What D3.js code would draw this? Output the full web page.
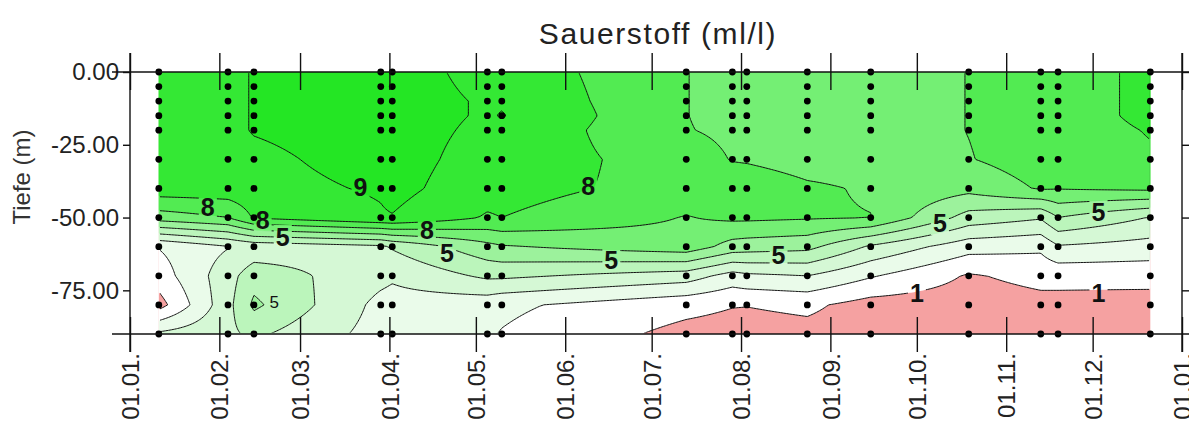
<!DOCTYPE html>
<html>
<head>
<meta charset="utf-8">
<script src="https://cdn.jsdelivr.net/npm/d3@7"></script>
<style>
  html, body { margin: 0; padding: 0; background: #fff; }
  svg { display: block; font-family: "Liberation Sans", Arial, sans-serif; }
</style>
</head>
<body>
<svg id="chart" width="1189" height="423"></svg>
<script>
// Sampling stations (dates of the CTD casts)
const stationDates = [
  "2001-01-11", "2001-02-04", "2001-02-13", "2001-03-29", "2001-04-02",
  "2001-05-05", "2001-05-10", "2001-07-13", "2001-07-29", "2001-08-03",
  "2001-08-24", "2001-09-15", "2001-10-19", "2001-11-13", "2001-11-19",
  "2001-12-21"
];

// Sampling depths (m)
const depths = [0, 5, 10, 15, 20, 30, 40, 50, 60, 70, 80, 90];

// Oxygen (ml/l), one row per station, one value per depth
const oxygen = [
  [8.8, 8.8, 8.8, 8.8, 8.8, 8.8, 8.6, 6.5, 2.05, 1.5, 0.6, 3.2],
  [8.8, 8.8, 8.8, 8.8, 8.8, 8.8, 8.6, 7.0, 2.95, 3.6, 3.7, 3.8],
  [9.05, 9.05, 9.05, 9.05, 9.05, 8.8, 8.7, 8.1, 3.3, 4.6, 5.2, 4.2],
  [9.4, 9.4, 9.4, 9.4, 9.4, 9.35, 9.1, 8.9, 3.8, 3.3, 2.7, 2.6],
  [9.4, 9.4, 9.4, 9.4, 9.4, 9.4, 9.3, 8.95, 4.1, 3.15, 2.6, 2.5],
  [8.7, 8.8, 8.9, 8.9, 8.8, 8.6, 8.4, 7.9, 5.7, 4.2, 2.4, 2.1],
  [8.7, 8.8, 8.9, 9.05, 8.8, 8.6, 8.4, 8.0, 5.9, 4.2, 2.2, 1.95],
  [7.02, 7.02, 7.02, 7.02, 7.05, 7.5, 7.6, 6.95, 6.6, 3.5, 1.3, 0.7],
  [6.7, 6.7, 6.7, 6.7, 6.8, 6.95, 7.6, 7.2, 5.6, 2.6, 1.05, 0.6],
  [6.7, 6.7, 6.7, 6.7, 6.8, 6.9, 7.6, 7.2, 5.5, 2.8, 1.03, 0.6],
  [6.5, 6.5, 6.5, 6.5, 6.5, 6.6, 7.15, 7.1, 5.3, 3.0, 1.2, 0.7],
  [6.5, 6.5, 6.5, 6.5, 6.5, 6.6, 6.9, 7.02, 3.85, 2.1, 0.6, 0.5],
  [7.02, 7.02, 7.02, 7.02, 7.02, 6.95, 6.3, 4.6, 2.4, 0.9, 0.5, 0.4],
  [7.5, 7.5, 7.5, 7.5, 7.5, 7.5, 7.1, 4.1, 2.2, 1.3, 0.7, 0.5],
  [7.6, 7.6, 7.6, 7.6, 7.6, 7.55, 7.05, 5.0, 2.9, 1.3, 0.7, 0.5],
  [8.2, 8.2, 8.2, 8.2, 8.05, 7.9, 7.2, 3.95, 2.6, 1.35, 0.6, 0.5]
];

// Contour levels and the fill of each band (below 1, 1-2, ..., above 9)
const levels = [1, 2, 3, 4, 5, 6, 7, 8, 9];
const bandColors = [
  "#f5a1a1", "#ffffff", "#eafbea", "#d5f8d5", "#bbf5bb",
  "#9cf29c", "#74ef74", "#52eb52", "#34e834", "#24e624"
];

// Axis ticks
const depthTicks = [0, -25, -50, -75];

// Contour labels: level, date, depth
const labelLevels = [9, 8, 8, 5, 5, 8, 8, 5, 5, 5, 5, 5, 1, 1];
const labelDates = [
  "2001-03-22", "2001-01-28", "2001-02-16", "2001-02-23", "2001-02-20",
  "2001-06-09", "2001-04-14", "2001-04-21", "2001-06-17", "2001-08-14",
  "2001-10-09", "2001-12-03", "2001-10-01", "2001-12-03"
];
const labelDepths = [39.5, 46.4, 50.8, 56.7, 79, 39.2, 54.3, 62.2, 64.6, 62.9, 51.9, 48.1, 75.9, 75.9];
const labelSmall = [false, false, false, false, true, false, false, false, false, false, false, false, false, false];

const title = "Sauerstoff (ml/l)";
const yTitle = "Tiefe (m)";

// ---------------------------------------------------------------
const svg = d3.select("#chart");
const parse = d3.utcParse("%Y-%m-%d");

const x = d3.scaleUtc()
  .domain([Date.UTC(2001, 0, 1), Date.UTC(2002, 0, 1)])
  .range([130, 1182]);
const y = d3.scaleLinear().domain([0, -90]).range([72, 334]);

const tStations = stationDates.map(s => +parse(s));

// bilinear interpolation between stations (time) and sampling depths
function sample(t, d) {
  let i = d3.bisectRight(tStations, t) - 1;
  i = Math.max(0, Math.min(tStations.length - 2, i));
  const fx = Math.max(0, Math.min(1, (t - tStations[i]) / (tStations[i + 1] - tStations[i])));
  let j = d3.bisectRight(depths, d) - 1;
  j = Math.max(0, Math.min(depths.length - 2, j));
  const fy = Math.max(0, Math.min(1, (d - depths[j]) / (depths[j + 1] - depths[j])));
  const a = oxygen[i][j], b = oxygen[i + 1][j];
  const c = oxygen[i][j + 1], e = oxygen[i + 1][j + 1];
  return a * (1 - fx) * (1 - fy) + b * fx * (1 - fy) + c * (1 - fx) * fy + e * fx * fy;
}

// regular grid over the sampled area
const gx0 = x(tStations[0]), gx1 = x(tStations[tStations.length - 1]);
const gy0 = y(0), gy1 = y(-depths[depths.length - 1]);
const nx = Math.round((gx1 - gx0) / 1.5), ny = Math.round((gy1 - gy0) / 1.5);
const dx = (gx1 - gx0) / nx, dy = (gy1 - gy0) / ny;
const grid = new Float64Array(nx * ny);
for (let j = 0; j < ny; j++) {
  const d = -y.invert(gy0 + (j + 0.5) * dy);
  for (let i = 0; i < nx; i++) {
    const t = +x.invert(gx0 + (i + 0.5) * dx);
    grid[j * nx + i] = sample(t, d);
  }
}

const contours = d3.contours().size([nx, ny]).thresholds(levels).smooth(true)(grid);
const path = d3.geoPath(d3.geoTransform({
  point(px, py) { this.stream.point(gx0 + px * dx, gy0 + py * dy); }
}));

// filled bands
const fills = svg.append("g");
fills.append("rect")
  .attr("x", gx0).attr("y", gy0)
  .attr("width", gx1 - gx0).attr("height", gy1 - gy0)
  .attr("fill", bandColors[0]);
fills.selectAll("path").data(contours).join("path")
  .attr("d", path)
  .attr("fill", (c, k) => bandColors[k + 1]);

// contour labels (placed first so their boxes can cut the lines)
const labels = svg.append("g").attr("class", "labels");
labels.selectAll("text").data(labelLevels).join("text")
  .attr("x", (v, k) => x(parse(labelDates[k])))
  .attr("y", (v, k) => y(-labelDepths[k]))
  .attr("dy", "0.36em")
  .attr("text-anchor", "middle")
  .attr("font-size", (v, k) => labelSmall[k] ? 17 : 25)
  .attr("font-weight", (v, k) => labelSmall[k] ? "normal" : "bold")
  .attr("fill", "#111")
  .text(v => v);

// mask that opens gaps in the contour lines around the labels
const defs = svg.append("defs");
defs.append("clipPath").attr("id", "inner")
  .append("rect")
  .attr("x", gx0 + 1.2).attr("y", gy0 + 1.2)
  .attr("width", gx1 - gx0 - 2.4).attr("height", gy1 - gy0 - 2.4);
const mask = defs.append("mask").attr("id", "gaps")
  .attr("maskUnits", "userSpaceOnUse")
  .attr("x", 0).attr("y", 0).attr("width", 1189).attr("height", 423);
mask.append("rect").attr("width", 1189).attr("height", 423).attr("fill", "#fff");
labels.selectAll("text").each(function (v, k) {
  if (labelSmall[k]) return;
  const b = this.getBBox();
  mask.append("rect")
    .attr("x", b.x - 2).attr("y", b.y + 2)
    .attr("width", b.width + 4).attr("height", b.height - 4)
    .attr("fill", "#000");
});

// contour lines
svg.insert("g", ".labels")
  .attr("clip-path", "url(#inner)")
  .attr("mask", "url(#gaps)")
  .selectAll("path").data(contours).join("path")
  .attr("d", path)
  .attr("fill", "none")
  .attr("stroke", "#111")
  .attr("stroke-width", 1);

// sample points
const pts = [];
stationDates.forEach(s => depths.forEach(d => pts.push([parse(s), d])));
svg.insert("g", ".labels").selectAll("circle").data(pts).join("circle")
  .attr("cx", p => x(p[0]))
  .attr("cy", p => y(-p[1]))
  .attr("r", 3.4)
  .attr("fill", "#000");

// axes
const months = d3.utcMonth.every(1);
const axisColor = "#111";
function styleAxis(g) {
  g.select(".domain").remove();
  g.selectAll("line").attr("stroke", axisColor).attr("stroke-width", 1.4);
  g.selectAll("text").attr("fill", "#222").attr("font-size", 24)
    .attr("font-family", "Liberation Sans, Arial, sans-serif");
}
[72, 334].forEach(yy => {
  svg.append("g").attr("transform", `translate(0,${yy})`)
    .call(d3.axisTop(x).ticks(months).tickSize(yy === 72 ? 19 : 17).tickSizeOuter(0).tickFormat(""))
    .call(styleAxis);
  svg.append("g").attr("transform", `translate(0,${yy})`)
    .call(d3.axisBottom(x).ticks(months).tickSize(18).tickSizeOuter(0).tickFormat(""))
    .call(styleAxis);
});
const xLab = svg.append("g").attr("transform", `translate(0,334)`)
  .call(d3.axisBottom(x).ticks(months).tickSize(0).tickSizeOuter(0).tickFormat(d3.utcFormat("%d.%m.")))
  .call(styleAxis);
xLab.selectAll("text")
  .attr("transform", "rotate(-90)")
  .attr("text-anchor", "end")
  .attr("x", -19).attr("y", 0).attr("dy", "0.36em");

svg.append("g").attr("transform", "translate(130,0)")
  .call(d3.axisLeft(y).tickValues(depthTicks).tickSize(7).tickPadding(4).tickFormat(d => d.toFixed(2)))
  .call(styleAxis);
svg.append("g").attr("transform", "translate(1182,0)")
  .call(d3.axisRight(y).tickValues(depthTicks).tickSize(7).tickFormat(""))
  .call(styleAxis);

// frame lines
const frame = svg.append("g").attr("stroke", axisColor).attr("stroke-width", 1.4);
[72, 334].forEach(yy => frame.append("line").attr("x1", 112).attr("x2", 1189).attr("y1", yy).attr("y2", yy));
[130, 1182].forEach(xx => frame.append("line").attr("x1", xx).attr("x2", xx).attr("y1", 53).attr("y2", 352));

// titles
svg.append("text")
  .attr("x", 658).attr("y", 44)
  .attr("text-anchor", "middle")
  .attr("font-size", 30)
  .attr("letter-spacing", 1.6)
  .attr("fill", "#222")
  .text(title);
svg.append("text")
  .attr("transform", "translate(30,177) rotate(-90)")
  .attr("text-anchor", "middle")
  .attr("font-size", 24)
  .attr("fill", "#333")
  .text(yTitle);
</script>
</body>
</html>
